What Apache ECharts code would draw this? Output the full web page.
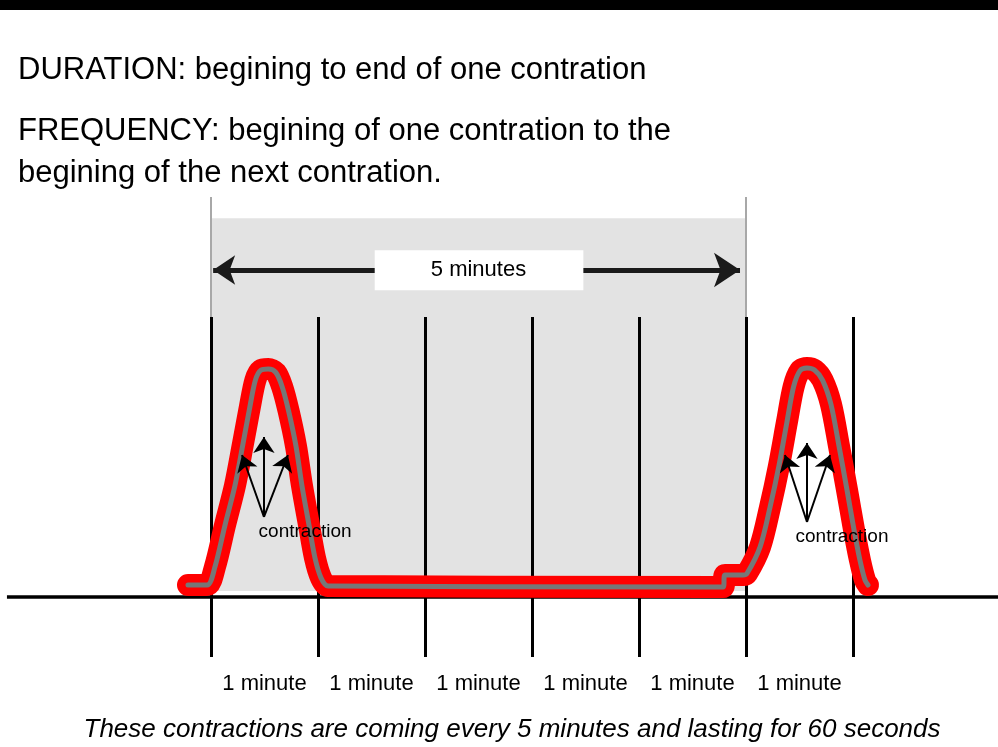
<!DOCTYPE html>
<html>
<head>
<meta charset="utf-8">
<script src="https://cdn.jsdelivr.net/npm/echarts@6/dist/echarts.min.js"></script>
<style>
html,body{margin:0;padding:0;background:#fff;}
#chart{width:998px;height:747px;}
</style>
</head>
<body>
<div id="chart"></div>
<script>
// ---- data (x in minutes, y in contraction intensity units) ----
const minuteMarks = [0, 1, 2, 3, 4, 5, 6];
const minuteLabels = ['1 minute', '1 minute', '1 minute', '1 minute', '1 minute', '1 minute'];
const intervalStart = 0;
const intervalEnd = 5;
const intervalLabel = '5 minutes';
// traced contraction curve: [minute, intensity]
const contractionCurve = [
  [-0.215, 1.7], [-0.037, 1.7], [0.037, 10], [0.131, 29], [0.224, 47], [0.299, 66],
  [0.364, 83], [0.415, 95], [0.465, 99.5], [0.535, 100], [0.605, 98.5], [0.665, 92],
  [0.725, 81], [0.794, 65], [0.850, 47], [0.916, 29], [0.972, 14], [1.028, 5], [1.093, 1.3],
  [4.785, 0.8], [4.804, 6.3], [4.972, 6.3], [5.009, 7], [5.131, 19], [5.224, 37],
  [5.308, 56], [5.383, 76], [5.445, 92], [5.505, 99.3], [5.570, 100.5], [5.640, 99.6],
  [5.715, 95], [5.794, 84], [5.869, 65], [5.944, 45], [6.009, 27], [6.065, 13],
  [6.112, 4], [6.140, 1.7]
];
// contraction annotation arrows: origin and three tips
const contractionArrows1 = { origin: [0.495, 32.7], tips: [[0.29, 60.9], [0.495, 69.1], [0.719, 60.9]] };
const contractionArrows2 = { origin: [5.57, 30.4], tips: [[5.364, 60.9], [5.57, 66.4], [5.785, 60.9]] };
const contractionLabel = 'contraction';
const contractionLabelPos = [[0.879, 25.9], [5.897, 23.6]];
const headerLines = [
  'DURATION: begining to end of one contration',
  'FREQUENCY: begining of one contration to the',
  'begining of the next contration.'
];
const footerText = 'These contractions are coming every 5 minutes and lasting for 60 seconds';

// ---- layout constants (in axis units) ----
const X_MIN = -1.97196, X_MAX = 7.35514;
const Y_MIN = -72, Y_MAX = 268;
const V_TICK_TOP = 123.7, V_TICK_BOTTOM = -31, V_BASE = -3.7;
const V_EXT_TOP = 178.3, V_REGION_TOP = 168.7, V_REGION_BOTTOM = -1;
const V_ARROW = 145.1, V_BOX_TOP = 154.1, V_BOX_BOTTOM = 135.9;
const V_MIN_LABEL = -43.3;
const FONT = '"Liberation Sans", Arial, Helvetica, sans-serif';

const chart = echarts.init(document.getElementById('chart'), null, { renderer: 'canvas' });

const verticalLines = minuteMarks.map(t => ({ coords: [[t, V_TICK_TOP], [t, V_TICK_BOTTOM]] }));
const extensionLines = [intervalStart, intervalEnd].map(t => ({ coords: [[t, V_EXT_TOP], [t, V_TICK_TOP]] }));
const labelPoints = minuteLabels.map((s, i) => [(minuteMarks[i] + minuteMarks[i + 1]) / 2, V_MIN_LABEL]);

function arrowLines(a) {
  return a.tips.map(tip => ({ coords: [a.origin, tip] }));
}

function rectItem(params, api) {
  const p1 = api.coord([api.value(0), api.value(1)]);
  const p2 = api.coord([api.value(2), api.value(3)]);
  return {
    type: 'rect',
    shape: { x: p1[0], y: p1[1], width: p2[0] - p1[0], height: p2[1] - p1[1] },
    style: { fill: api.visual('color') }
  };
}

function textRenderer(texts, fontSize) {
  return function (params, api) {
    const p = api.coord([api.value(0), api.value(1)]);
    return {
      type: 'text',
      x: p[0], y: p[1],
      style: {
        text: texts[params.dataIndex],
        fill: '#000',
        font: fontSize + 'px ' + FONT,
        align: 'center',
        verticalAlign: 'middle'
      }
    };
  };
}

const option = {
  animation: false,
  backgroundColor: '#fff',
  grid: { left: 0, right: 0, top: 0, bottom: 0 },
  xAxis: { type: 'value', min: X_MIN, max: X_MAX, show: false },
  yAxis: { type: 'value', min: Y_MIN, max: Y_MAX, show: false },
  graphic: [
    { type: 'rect', left: 0, top: 0, shape: { width: 998, height: 10 }, style: { fill: '#000' }, z: 100 },
    { type: 'text', x: 18, y: 70, style: { text: headerLines[0], font: '31px ' + FONT, fill: '#000', verticalAlign: 'middle' }, z: 100 },
    { type: 'text', x: 18, y: 131, style: { text: headerLines[1], font: '31px ' + FONT, fill: '#000', verticalAlign: 'middle' }, z: 100 },
    { type: 'text', x: 18, y: 173, style: { text: headerLines[2], font: '31px ' + FONT, fill: '#000', verticalAlign: 'middle' }, z: 100 },
    { type: 'text', x: 512, y: 730, style: { text: footerText, font: 'italic 26px ' + FONT, fill: '#000', align: 'center', verticalAlign: 'middle' }, z: 100 }
  ],
  series: [
    // shaded interval region
    {
      type: 'custom', z: 1, silent: true,
      itemStyle: { color: '#e3e3e3' },
      renderItem: rectItem,
      data: [[intervalStart, V_REGION_TOP, intervalEnd, V_REGION_BOTTOM]]
    },
    // gray extension lines
    {
      type: 'lines', coordinateSystem: 'cartesian2d', z: 2, silent: true,
      lineStyle: { color: '#a8a8a8', width: 2, opacity: 1 },
      data: extensionLines
    },
    // minute division lines
    {
      type: 'lines', coordinateSystem: 'cartesian2d', z: 3, silent: true,
      lineStyle: { color: '#000', width: 3, opacity: 1 },
      data: verticalLines
    },
    // baseline
    {
      type: 'lines', coordinateSystem: 'cartesian2d', z: 3, silent: true,
      lineStyle: { color: '#000', width: 3.5, opacity: 1 },
      data: [{ coords: [[-1.907, V_BASE], [X_MAX, V_BASE]] }]
    },
    // 5-minute double arrow
    {
      type: 'lines', coordinateSystem: 'cartesian2d', z: 4, silent: true,
      symbol: ['arrow', 'arrow'], symbolSize: [22, 26],
      lineStyle: { color: '#1a1a1a', width: 5, opacity: 1 },
      data: [{ coords: [[intervalStart + 0.02, V_ARROW], [intervalEnd - 0.056, V_ARROW]] }]
    },
    // white label box
    {
      type: 'custom', z: 5, silent: true,
      itemStyle: { color: '#ffffff' },
      renderItem: rectItem,
      data: [[1.53, V_BOX_TOP, 3.48, V_BOX_BOTTOM]]
    },
    {
      type: 'custom', z: 6, silent: true,
      renderItem: textRenderer([intervalLabel], 22),
      data: [[(intervalStart + intervalEnd) / 2, V_ARROW]]
    },
    // contraction curve: red outline
    {
      type: 'line', z: 7, silent: true, showSymbol: false, smooth: 0.3,
      lineStyle: { color: '#ff0000', width: 22, cap: 'round', join: 'round' },
      data: contractionCurve
    },
    // contraction curve: gray core
    {
      type: 'line', z: 8, silent: true, showSymbol: false, smooth: 0.3,
      lineStyle: { color: '#777777', width: 5, cap: 'round', join: 'round' },
      data: contractionCurve
    },
    // contraction arrows
    {
      type: 'lines', coordinateSystem: 'cartesian2d', z: 9, silent: true,
      symbol: ['none', 'arrow'], symbolSize: [11, 16],
      lineStyle: { color: '#000', width: 2, opacity: 1 },
      data: arrowLines(contractionArrows1).concat(arrowLines(contractionArrows2))
    },
    {
      type: 'custom', z: 10, silent: true,
      renderItem: textRenderer([contractionLabel, contractionLabel], 19),
      data: contractionLabelPos
    },
    // minute labels
    {
      type: 'custom', z: 10, silent: true,
      renderItem: textRenderer(minuteLabels, 22),
      data: labelPoints
    }
  ]
};
chart.setOption(option);
</script>
</body>
</html>
